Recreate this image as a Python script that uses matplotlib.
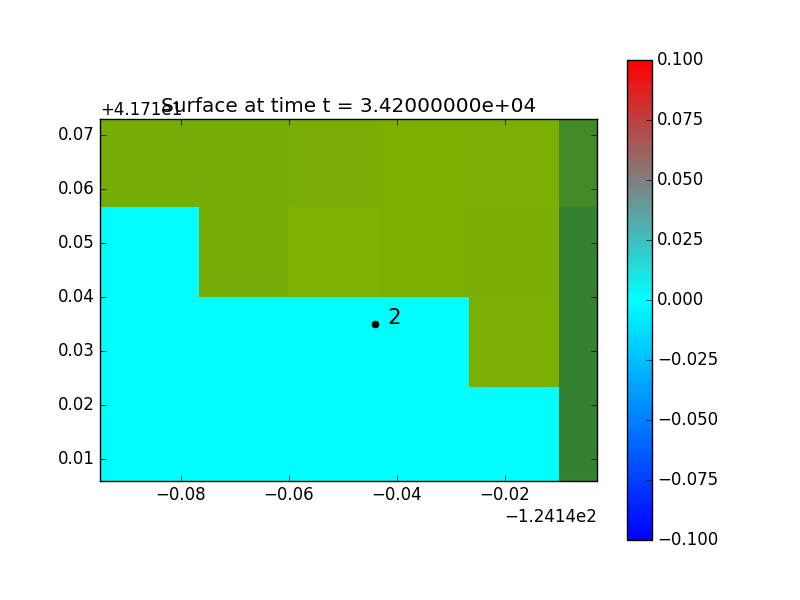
import matplotlib
matplotlib.use('Agg')
import matplotlib.pyplot as plt
import numpy as np
from matplotlib.colors import LinearSegmentedColormap

plt.style.use('classic')

# cell edges, 1 arcminute grid
lon_edges = [-124.25, -124.233333, -124.216667, -124.2, -124.183333, -124.166667, -124.15, -124.133333]
lat_edges = [41.7, 41.716667, 41.733333, 41.75, 41.766667, 41.783333]

# topography (m), rows south -> north; negative = under water
topo = [
    [-5, -5, -5, -5, -5, -5, 94],
    [-5, -5, -5, -5, -5, -5, 97],
    [-5, -5, -5, -5, -5, 7, 97],
    [-5, -5, 13, 4, 6, 9, 97],
    [13, 13, 13, 11, 6, 8, 77],
]
# surface elevation (m) on wet cells
eta_wet = 0.0

gauge_no = 2
gauge_x = -124.184
gauge_y = 41.745

cb_ticks = [-0.1, -0.075, -0.05, -0.025, 0.0, 0.025, 0.05, 0.075, 0.1]

tsunami_cmap = LinearSegmentedColormap.from_list('tsunami', [(0, (0, 0, 1)), (0.5, (0, 1, 1)), (1, (1, 0, 0))])
land_cmap = LinearSegmentedColormap.from_list('land', [(0.5, 0.7, 0.0), (0.2, 0.5, 0.2)])

topo = np.array(topo, dtype=float)
wet = topo < 0
eta = np.ma.masked_where(~wet, np.full(topo.shape, eta_wet))
land = np.ma.masked_where(wet, topo)

fig = plt.figure(figsize=(8, 6), dpi=100)
ax = fig.add_axes([0.125, 0.1988, 0.621, 0.6024])
cax = fig.add_axes([0.7841, 0.1, 0.0305, 0.8])

m = ax.pcolormesh(lon_edges, lat_edges, eta, cmap=tsunami_cmap, vmin=-0.1, vmax=0.1)
ax.pcolormesh(lon_edges, lat_edges, land, cmap=land_cmap, vmin=0, vmax=100)

# gauge
ax.plot([gauge_x], [gauge_y], 'ko', markersize=5)
ax.text(gauge_x, gauge_y, '  %s' % gauge_no, fontsize=15)

ax.set_xlim(-124.235, -124.143)
ax.set_ylim(41.716, 41.783)
ax.xaxis.get_major_formatter().set_useOffset(-124.14)
ax.yaxis.get_major_formatter().set_useOffset(41.71)
ax.set_title('Surface at time t = 3.42000000e+04')

cb = fig.colorbar(m, cax=cax, ticks=cb_ticks)

fig.savefig('out.png', dpi=100)
